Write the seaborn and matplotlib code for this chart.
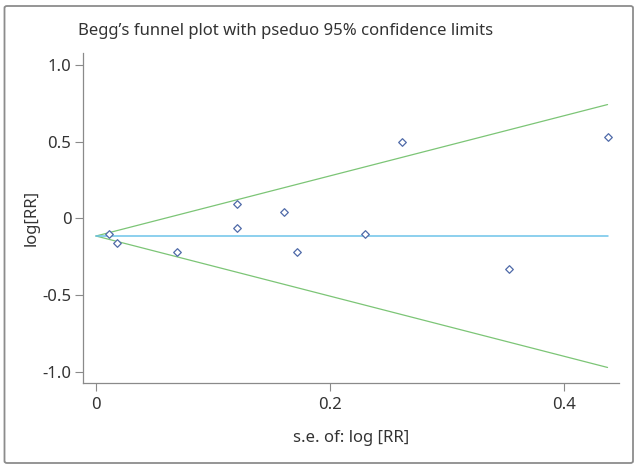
import matplotlib
matplotlib.use("Agg")
import matplotlib.pyplot as plt
import seaborn as sns
import pandas as pd
from matplotlib.patches import FancyBboxPatch

# ---- data ----
se_values = [0.011, 0.018, 0.069, 0.1205, 0.1205, 0.161, 0.172, 0.2305, 0.2615, 0.3535, 0.4378]
log_rr = [-0.104, -0.161, -0.220, 0.091, -0.060, 0.038, -0.222, -0.103, 0.496, -0.328, 0.528]
pooled = -0.1155
line_se = [0.0, 0.4376]
upper_limit = [-0.1155, 0.742]
lower_limit = [-0.1155, -0.973]
center_line = [pooled, pooled]
x_ticks = [0, 0.2, 0.4]
x_ticklabels = ["0", "0.2", "0.4"]
y_ticks = [1.0, 0.5, 0, -0.5, -1.0]
y_ticklabels = ["1.0", "0.5", "0", "-0.5", "-1.0"]

sns.set_theme(style="white")
plt.rcParams["font.family"] = ["Noto Sans", "DejaVu Sans"]

fig = plt.figure(figsize=(6.39, 4.68), dpi=100)
W, H = 639, 468
ax = fig.add_axes([83.3 / W, 1 - 382.7 / H, (619 - 83.3) / W, (382.7 - 53) / H])

pts = pd.DataFrame({"se": se_values, "logrr": log_rr})
lines = pd.DataFrame({"se": line_se * 3,
                      "val": upper_limit + lower_limit + center_line,
                      "kind": ["upper"] * 2 + ["lower"] * 2 + ["center"] * 2})

sns.lineplot(data=lines[lines.kind == "upper"], x="se", y="val", color="#7cc576", lw=0.9, ax=ax)
sns.lineplot(data=lines[lines.kind == "lower"], x="se", y="val", color="#7cc576", lw=0.9, ax=ax)
sns.lineplot(data=lines[lines.kind == "center"], x="se", y="val", color="#6ec3ea", lw=1.1, ax=ax)
sns.scatterplot(data=pts, x="se", y="logrr", marker="D", s=15, facecolor="white",
                edgecolor="#4f6aa8", linewidth=0.9, ax=ax, zorder=5)

ax.set_xlim(-0.01086, 0.4474)
ax.set_ylim(-1.0724, 1.0783)
ax.set_xticks(x_ticks)
ax.set_xticklabels(x_ticklabels)
ax.set_yticks(y_ticks)
ax.set_yticklabels(y_ticklabels)

for side in ["top", "right"]:
    ax.spines[side].set_visible(False)
for side in ["left", "bottom"]:
    ax.spines[side].set_color("#8a8a8a")
    ax.spines[side].set_linewidth(0.9)

FS = 12
ax.tick_params(axis="both", which="major", direction="out", length=5.5, width=0.8,
               color="#8a8a8a", labelcolor="#333333", labelsize=FS, left=True, bottom=True)
ax.tick_params(axis="x", pad=5)
ax.tick_params(axis="y", pad=3)

ax.set_xlabel("s.e. of: log [RR]", fontsize=FS, color="#333333", labelpad=12)
ax.set_ylabel("log[RR]", fontsize=FS, color="#333333", labelpad=2)

fig.text(78.3 / W, 1 - 35 / H, "Begg\u2019s funnel plot with pseduo 95% confidence limits",
         fontsize=FS, color="#333333", ha="left", va="baseline")

border = FancyBboxPatch((4.5 / W, 5 / H), (633 - 4.5) / W, (462 - 5) / H,
                        boxstyle="round,pad=0,rounding_size=0.004",
                        transform=fig.transFigure, facecolor="none",
                        edgecolor="#8c8c8c", linewidth=1.3)
fig.patches.append(border)

fig.savefig("out.png", dpi=100)
